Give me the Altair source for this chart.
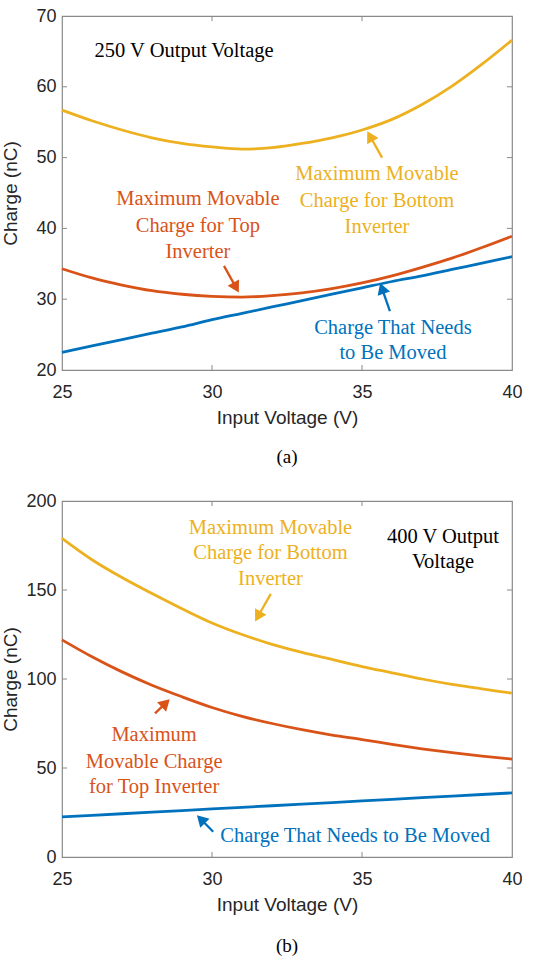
import math
import pandas as pd
import altair as alt

# ---- data ---------------------------------------------------------------
vin = [25, 26, 27, 28, 29, 30, 31, 32, 33, 34, 35, 36, 37, 38, 39, 40]

# (a) 250 V output voltage
a_bottom = [56.7, 55.2, 53.9, 52.8, 52.0, 51.5, 51.2, 51.4, 52.0, 52.8, 53.9, 55.4, 57.5, 60.1, 63.2, 66.6]
a_top = [34.3, 33.0, 32.0, 31.2, 30.7, 30.4, 30.3, 30.5, 30.9, 31.5, 32.3, 33.3, 34.5, 35.8, 37.3, 38.9]
a_need = [22.5, 23.4, 24.3, 25.2, 26.1, 27.1, 28.0, 28.9, 29.8, 30.7, 31.6, 32.5, 33.3, 34.2, 35.1, 36.0]

# (b) 400 V output voltage
b_bottom = [179, 167, 157, 148, 139.5, 131.5, 125, 119.5, 115, 111, 107, 103.5, 100, 97, 94.5, 92]
b_top = [122, 112.5, 104, 96.5, 90, 84, 79, 75, 71.5, 68.5, 66, 63.3, 60.8, 58.6, 56.7, 55]
b_need = [22.5, 23.4, 24.3, 25.2, 26.1, 27.0, 27.9, 28.8, 29.7, 30.6, 31.5, 32.4, 33.3, 34.2, 35.1, 36.0]

x_ticks = [25, 30, 35, 40]
a_y_ticks = [20, 30, 40, 50, 60, 70]
b_y_ticks = [0, 50, 100, 150, 200]

BLUE = "#0072BD"
ORANGE = "#D95319"
YELLOW = "#EDB120"
BLACK = "#000000"

# annotation lines: text, x, y, colour
a_text = ["250 V Output Voltage",
          "Maximum Movable", "Charge for Bottom", "Inverter",
          "Maximum Movable", "Charge for Top", "Inverter",
          "Charge That Needs", "to Be Moved"]
a_text_x = [29.07, 35.5, 35.5, 35.5, 29.53, 29.53, 29.53, 36.03, 36.03]
a_text_y = [65.05, 47.7, 43.9, 40.2, 44.15, 40.35, 36.6, 25.9, 22.44]
a_text_c = [BLACK, YELLOW, YELLOW, YELLOW, ORANGE, ORANGE, ORANGE, BLUE, BLUE]

b_text = ["400 V Output", "Voltage",
          "Maximum Movable", "Charge for Bottom", "Inverter",
          "Maximum", "Movable Charge", "for Top Inverter",
          "Charge That Needs to Be Moved"]
b_text_x = [37.7, 37.7, 31.95, 31.95, 31.95, 28.07, 28.07, 28.07, 34.77]
b_text_y = [179.9, 165.9, 184.7, 170.6, 156.0, 68.5, 53.5, 39.2, 11.8]
b_text_c = [BLACK, BLACK, YELLOW, YELLOW, YELLOW, ORANGE, ORANGE, ORANGE, BLUE]

# arrows: tail -> tip
a_arrow_tail_x = [35.67, 30.40, 35.93]
a_arrow_tail_y = [49.99, 34.70, 28.33]
a_arrow_tip_x = [35.17, 30.90, 35.60]
a_arrow_tip_y = [53.76, 30.90, 32.33]
a_arrow_c = [YELLOW, ORANGE, BLUE]

b_arrow_tail_x = [31.96, 28.10, 30.04]
b_arrow_tail_y = [147.8, 80.7, 14.2]
b_arrow_tip_x = [31.43, 28.60, 29.49]
b_arrow_tip_y = [132.2, 88.8, 23.6]
b_arrow_c = [YELLOW, ORANGE, BLUE]

W = 450
SANS = "Liberation Sans"
SERIF = "Liberation Serif"
AXIS_GREY = "#262626"
BOX_GREY = "#8a8a8a"


def panel(need, top, bottom, y_dom, y_ticks, texts, tx, ty, tc,
          tail_x, tail_y, tip_x, tip_y, ac, caption, title_pad, H, cap_offset):
    xs = alt.Scale(domain=[25, 40], nice=False, zero=False)
    ys = alt.Scale(domain=y_dom, nice=False, zero=False)

    lines = pd.DataFrame({
        "vin": vin * 3,
        "q": need + top + bottom,
        "s": ["need"] * len(vin) + ["top"] * len(vin) + ["bottom"] * len(vin),
    })
    x_enc = alt.X("vin:Q", scale=xs, title="Input Voltage (V)",
                  axis=alt.Axis(values=x_ticks, format="d", labelFlush=False))
    y_enc = alt.Y("q:Q", scale=ys, title="Charge (nC)",
                  axis=alt.Axis(values=y_ticks, format="d", labelFlush=False,
                                titlePadding=title_pad))

    curves = alt.Chart(lines).mark_line(strokeWidth=2.8, interpolate="monotone").encode(
        x=x_enc, y=y_enc,
        detail="s:N",
        color=alt.Color("s:N", legend=None,
                        scale=alt.Scale(domain=["need", "top", "bottom"],
                                        range=[BLUE, ORANGE, YELLOW])),
    )

    # inward tick marks on all four sides of the box
    span_y = y_dom[1] - y_dom[0]
    inner_x = pd.DataFrame({"vin": x_ticks[1:-1]})
    inner_y = pd.DataFrame({"q": y_ticks[1:-1]})
    tick_style = dict(color=BOX_GREY, strokeWidth=1)
    t_bottom = alt.Chart(inner_x).mark_rule(**tick_style).encode(
        x=alt.X("vin:Q", scale=xs), y=alt.value(H), y2=alt.value(H - 5))
    t_top = alt.Chart(inner_x).mark_rule(**tick_style).encode(
        x=alt.X("vin:Q", scale=xs), y=alt.value(0), y2=alt.value(5))
    t_left = alt.Chart(inner_y).mark_rule(**tick_style).encode(
        y=alt.Y("q:Q", scale=ys), x=alt.value(0), x2=alt.value(5))
    t_right = alt.Chart(inner_y).mark_rule(**tick_style).encode(
        y=alt.Y("q:Q", scale=ys), x=alt.value(W), x2=alt.value(W - 5))

    labels = alt.Chart(pd.DataFrame({"vin": tx, "q": ty, "t": texts, "c": tc})).mark_text(
        font=SERIF, fontSize=20.5, align="center", baseline="middle").encode(
        x=alt.X("vin:Q", scale=xs), y=alt.Y("q:Q", scale=ys),
        text="t:N", color=alt.Color("c:N", scale=None))

    # arrow geometry in pixels per data unit
    kx = W / 15.0
    ky = H / span_y
    head_x, head_y, angles = [], [], []
    for x0, y0, x1, y1 in zip(tail_x, tail_y, tip_x, tip_y):
        dx = (x1 - x0) * kx
        dy = -(y1 - y0) * ky
        L = math.hypot(dx, dy)
        ux, uy = dx / L, dy / L
        back = 6.0
        head_x.append(x1 - ux * back / kx)
        head_y.append(y1 + uy * back / ky)
        angles.append(math.degrees(math.atan2(dx, -dy)) % 360)

    arrows = pd.DataFrame({"x0": tail_x, "y0": tail_y, "x1": head_x, "y1": head_y,
                           "ang": angles, "c": ac})
    shafts = alt.Chart(arrows).mark_rule(strokeWidth=2.3).encode(
        x=alt.X("x0:Q", scale=xs), y=alt.Y("y0:Q", scale=ys),
        x2="x1:Q", y2="y1:Q", color=alt.Color("c:N", scale=None))
    heads = alt.Chart(arrows).mark_point(shape="triangle-up", filled=True, size=170,
                                         opacity=1).encode(
        x=alt.X("x1:Q", scale=xs), y=alt.Y("y1:Q", scale=ys),
        angle=alt.Angle("ang:Q", scale=None), color=alt.Color("c:N", scale=None))

    return alt.layer(curves, t_bottom, t_top, t_left, t_right, shafts, heads, labels).properties(
        width=W, height=H,
        title=alt.TitleParams(caption, orient="bottom", font=SERIF, fontSize=19,
                              fontWeight="normal", color=BLACK, offset=cap_offset),
    ).resolve_scale(color="independent")


chart_a = panel(a_need, a_top, a_bottom, [20, 70], a_y_ticks, a_text, a_text_x, a_text_y,
                a_text_c, a_arrow_tail_x, a_arrow_tail_y, a_arrow_tip_x, a_arrow_tip_y,
                a_arrow_c, "(a)", 15, 354, 21)
chart_b = panel(b_need, b_top, b_bottom, [0, 200], b_y_ticks, b_text, b_text_x, b_text_y,
                b_text_c, b_arrow_tail_x, b_arrow_tail_y, b_arrow_tip_x, b_arrow_tip_y,
                b_arrow_c, "(b)", 5, 356, 23)

chart = alt.vconcat(chart_a, chart_b, spacing=23).properties(
    padding={"top": 6, "left": 1, "right": 5, "bottom": 5},
    background="white",
).configure_view(
    stroke=BOX_GREY, strokeWidth=1.2
).configure_axis(
    grid=False, ticks=False, domain=False,
    labelFont=SANS, labelFontSize=18, labelColor=AXIS_GREY,
    titleFont=SANS, titleFontSize=19, titleColor=AXIS_GREY, titleFontWeight="normal",
).configure_axisX(
    labelPadding=13, titlePadding=7,
).configure_axisY(
    labelPadding=6,
)

chart.save("out.html", embed_options={"renderer": "svg", "actions": False})
